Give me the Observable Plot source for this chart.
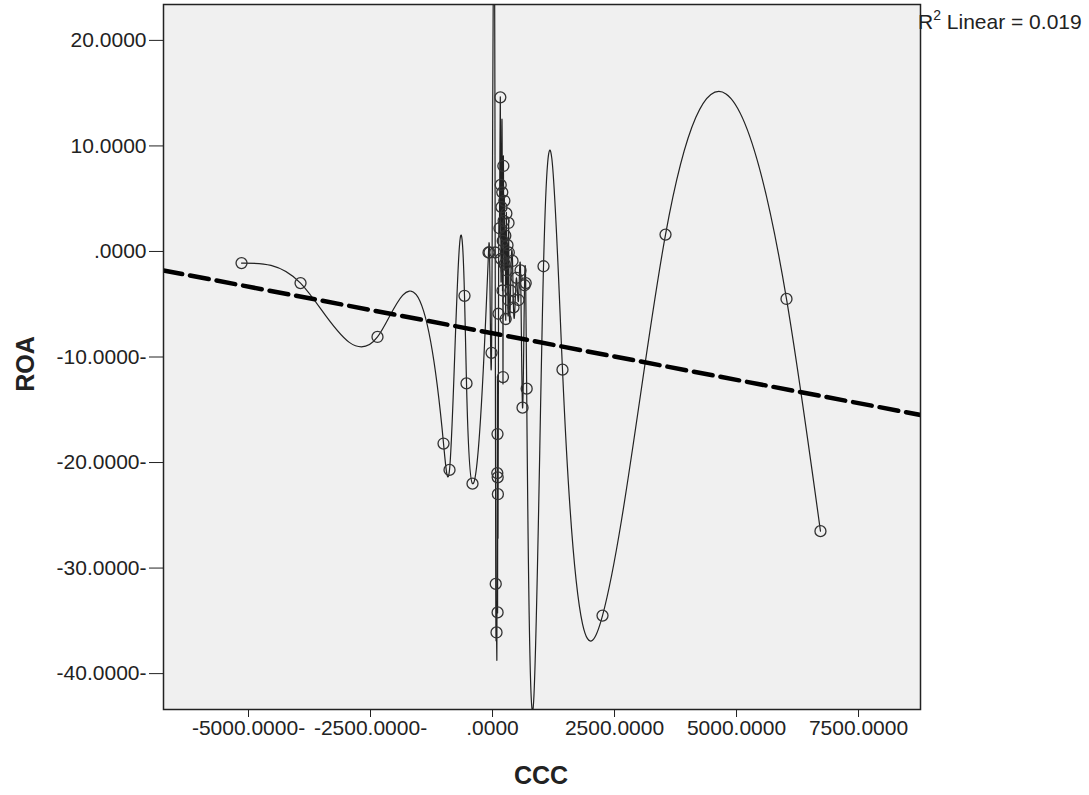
<!DOCTYPE html>
<html><head><meta charset="utf-8">
<script src="https://cdn.jsdelivr.net/npm/d3@7"></script>
<script src="https://cdn.jsdelivr.net/npm/@observablehq/plot@0.6"></script>
<style>body{margin:0;background:#fff;}</style>
</head><body><div id="chart"></div>
<script>
// CCC (x) and ROA (y) values
const ccc = [-5143,-3934,-2357,-1004,-881,-574,-533,-410,-82,-61,-20,55,66,82,98,102,104,106,110,
  123,143,160,168,172,184,200,205,210,214,222,228,243,249,262,270,284,290,307,322,328,334,369,410,430,
  492,533,574,615,656,680,700,1045,1434,2254,3545,6024,6720];
const roa = [-1.1,-3.0,-8.1,-18.2,-20.7,-4.2,-12.5,-22.0,-0.1,-0.1,-9.6,-0.1,-31.5,-36.1,-21.0,-17.3,-34.2,-21.4,-23.0,
  -5.9,2.2,14.6,6.3,-0.7,4.2,5.6,-3.7,1.0,-11.9,8.1,2.9,4.8,-1.2,1.5,-6.4,3.6,-1.8,0.6,-4.6,2.7,-0.1,-3.7,-0.9,-5.3,
  -2.5,-4.6,-1.8,-14.8,-3.2,-3.0,-13.0,-1.4,-11.2,-34.5,1.6,-4.5,-26.5];
const xTicks = [-5000,-2500,0,2500,5000,7500];
const yTicks = [20,10,0,-10,-20,-30,-40];
const xDomain = [-6742, 8770];
const yDomain = [-43.4, 23.4];
const xTitle = "CCC", yTitle = "ROA";
// linear fit line as shown in the reference
const fitIntercept = -7.75, fitSlope = -0.000883;
const r2Value = "0.019";

const data = ccc.map((c,i)=>({ccc:c, roa:roa[i]})).sort((a,b)=>a.ccc-b.ccc);
const fit = xDomain.map(x=>({x, y: fitIntercept + fitSlope*x}));

// natural cubic spline in x (SPSS-style interpolation line)
function curveSplineX(context){
  let xs, ys;
  return {
    areaStart(){}, areaEnd(){},
    lineStart(){ xs=[]; ys=[]; },
    point(x,y){ xs.push(+x); ys.push(+y); },
    lineEnd(){
      const n = xs.length; if(!n) return;
      context.moveTo(xs[0], ys[0]);
      if(n===1) return;
      if(n===2){ context.lineTo(xs[1], ys[1]); return; }
      const h=[], d=[];
      for(let i=0;i<n-1;i++){ h[i]=Math.max(xs[i+1]-xs[i],0.05); d[i]=(ys[i+1]-ys[i])/h[i]; }
      const M=new Array(n).fill(0), cp=[], rp=[];
      for(let i=1;i<n-1;i++){
        const a=h[i-1], b=2*(h[i-1]+h[i]), c=h[i], r=6*(d[i]-d[i-1]);
        const m = b - (i>1 ? a*cp[i-1] : 0);
        cp[i] = c/m; rp[i] = (r - (i>1 ? a*rp[i-1] : 0))/m;
      }
      for(let i=n-2;i>=1;i--) M[i] = rp[i] - (i<n-2 ? cp[i]*M[i+1] : 0);
      const lim = v => Math.max(-1e5, Math.min(1e5, v));
      for(let i=0;i<n-1;i++){
        const m0 = d[i] - h[i]*(2*M[i]+M[i+1])/6;
        const m1 = d[i] + h[i]*(M[i]+2*M[i+1])/6;
        context.bezierCurveTo(xs[i]+h[i]/3, lim(ys[i]+m0*h[i]/3), xs[i+1]-h[i]/3, lim(ys[i+1]-m1*h[i]/3), xs[i+1], ys[i+1]);
      }
    }
  };
}

const fmt = v => v===0 ? ".0000" : (v<0 ? "-"+Math.abs(v).toFixed(4)+"-" : v.toFixed(4));
const FONT = "'Liberation Sans', Arial, sans-serif";

const plot = Plot.plot({
  width:1089, height:795,
  marginLeft:163, marginRight:169, marginTop:4, marginBottom:86,
  style:{fontFamily:FONT, fontSize:"21px", color:"#222", background:"#fff"},
  x:{domain:xDomain},
  y:{domain:yDomain},
  marks:[
    Plot.frame({fill:"#f0f0f0"}),
    Plot.axisX({ticks:xTicks, tickFormat:fmt, tickSize:8, tickPadding:3, label:null, stroke:"#222"}),
    Plot.axisY({ticks:yTicks, tickFormat:fmt, tickSize:14, tickPadding:3, label:null, stroke:"#222"}),
    Plot.line(data,{x:"ccc", y:"roa", curve:curveSplineX, stroke:"#222", strokeWidth:1.2, clip:true}),
    Plot.line(fit,{x:"x", y:"y", stroke:"#000", strokeWidth:4.5, strokeDasharray:"19,8", clip:true}),
    Plot.dot(data,{x:"ccc", y:"roa", r:5.5, stroke:"#333", strokeWidth:1.3, fill:"none"}),
    Plot.frame({stroke:"#222", strokeWidth:1.5})
  ]
});
document.getElementById("chart").appendChild(plot);

const svg = d3.select(plot);
// axis titles
svg.append("text").attr("transform","translate(25,364) rotate(-90)")
  .attr("text-anchor","middle").attr("dy","0.35em")
  .attr("font-family",FONT).attr("font-weight","bold").attr("font-size",25).attr("fill","#222").text(yTitle);
svg.append("text").attr("x",541).attr("y",775)
  .attr("text-anchor","middle").attr("dy","0.35em")
  .attr("font-family",FONT).attr("font-weight","bold").attr("font-size",25).attr("fill","#222").text(xTitle);
// R² label just right of the frame's top-right corner
const t = svg.append("text").attr("x", 918).attr("y", 29).attr("text-anchor","start")
  .attr("font-family",FONT).attr("font-size",21).attr("fill","#222");
t.append("tspan").text("R");
t.append("tspan").attr("font-size",14).attr("dy",-9).text("2");
t.append("tspan").attr("dy",9).text(" Linear = " + r2Value);
</script>
</body></html>
